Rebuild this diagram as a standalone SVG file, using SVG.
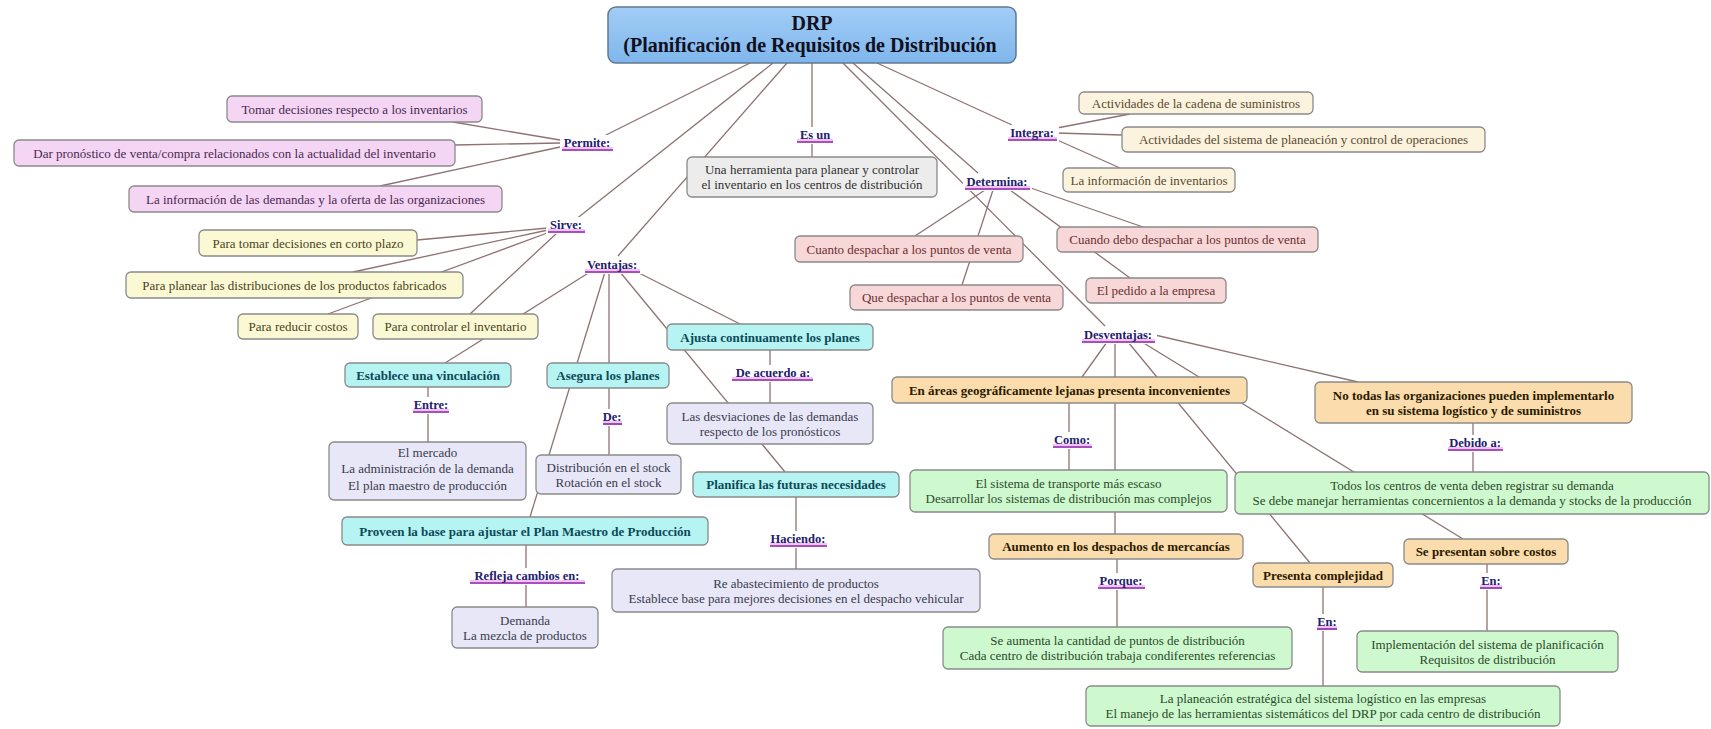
<svg xmlns="http://www.w3.org/2000/svg" width="1711" height="729" viewBox="0 0 1711 729">
<defs>
<linearGradient id="gMain" x1="0" y1="0" x2="0" y2="1"><stop offset="0" stop-color="#a2cdf6"/><stop offset="1" stop-color="#7fb6ec"/></linearGradient>
</defs>
<style>
text{font-family:"Liberation Serif","Times New Roman",serif;font-size:13px;text-anchor:middle}
.box{stroke:#8a8a8a;stroke-width:1.3}
.pk{fill:#f4d6f4}.pkt{fill:#4a2850}
.yl{fill:#fbf9d4}.ylt{fill:#4a4220}
.bg{fill:#fbf3de}.bgt{fill:#5a4a30}
.rs{fill:#f7d7d7}.rst{fill:#6a3030}
.gy{fill:#ececec}.gyt{fill:#303030}
.cy{fill:#b6f3f3}.cyt{fill:#0c4a58;font-weight:bold}
.lv{fill:#e7e7f8}.lvt{fill:#3a3a4c}
.or{fill:#fbdcad}.ort{fill:#2a1a00;font-weight:bold}
.gr{fill:#cef9ce}.grt{fill:#2a4a2a}
.conn line{stroke:#8f7272;stroke-width:1.3}
.lt{font-weight:bold;fill:#22206c;font-size:12.5px}
.lbg{fill:#ffffff}
.glow{fill:#f2a8f2;opacity:0.7}
.ul{stroke:#8a2aa8;stroke-width:1.6}
</style>
<rect width="1711" height="729" fill="#ffffff"/>

<g id="connectors" class="conn">
<line x1="750" y1="63" x2="600" y2="138"/>
<line x1="560" y1="140" x2="453" y2="122"/>
<line x1="560" y1="143" x2="455" y2="145"/>
<line x1="560" y1="147" x2="380" y2="186"/>
<line x1="773" y1="63" x2="575" y2="220"/>
<line x1="548" y1="228" x2="417" y2="240"/>
<line x1="548" y1="230" x2="353" y2="272"/>
<line x1="550" y1="232" x2="328" y2="314"/>
<line x1="558" y1="232" x2="470" y2="314"/>
<line x1="787" y1="63" x2="618" y2="256"/>
<line x1="812" y1="63" x2="812" y2="157"/>
<line x1="877" y1="63" x2="1012" y2="125"/>
<line x1="1057" y1="128" x2="1130" y2="114"/>
<line x1="1057" y1="133" x2="1122" y2="135"/>
<line x1="1055" y1="139" x2="1120" y2="168"/>
<line x1="853" y1="63" x2="978" y2="173"/>
<line x1="1025" y1="186" x2="1143" y2="227"/>
<line x1="985" y1="190" x2="915" y2="236"/>
<line x1="993" y1="190" x2="962" y2="285"/>
<line x1="1010" y1="190" x2="1130" y2="278"/>
<line x1="843" y1="63" x2="1105" y2="326"/>
<line x1="590" y1="272" x2="445" y2="363"/>
<line x1="609" y1="272" x2="609" y2="363"/>
<line x1="637" y1="272" x2="740" y2="324"/>
<line x1="620" y1="272" x2="785" y2="472"/>
<line x1="605" y1="272" x2="530" y2="517"/>
<line x1="428" y1="387" x2="428" y2="442"/>
<line x1="609" y1="388" x2="609" y2="455"/>
<line x1="770" y1="350" x2="770" y2="403"/>
<line x1="796" y1="497" x2="796" y2="569"/>
<line x1="526" y1="545" x2="526" y2="607"/>
<line x1="1107" y1="342" x2="1082" y2="377"/>
<line x1="1115" y1="342" x2="1115" y2="534"/>
<line x1="1155" y1="335" x2="1358" y2="382"/>
<line x1="1128" y1="342" x2="1310" y2="563"/>
<line x1="1142" y1="342" x2="1463" y2="539"/>
<line x1="1069" y1="403" x2="1069" y2="470"/>
<line x1="1117" y1="559" x2="1117" y2="627"/>
<line x1="1473" y1="423" x2="1473" y2="472"/>
<line x1="1323" y1="587" x2="1323" y2="686"/>
<line x1="1487" y1="564" x2="1487" y2="631"/>
</g>

<g id="link-labels">
<g id="l-permite"><rect class="lbg" x="560" y="135" width="55" height="17"/><rect class="glow" x="562" y="147" width="51" height="4"/><line class="ul" x1="562" y1="150" x2="613" y2="150"/><text class="lt" x="587" y="147">Permite:</text></g>
<g id="l-sirve"><rect class="lbg" x="546" y="217" width="41" height="17"/><rect class="glow" x="548" y="229" width="37" height="4"/><line class="ul" x1="548" y1="232" x2="585" y2="232"/><text class="lt" x="566" y="229">Sirve:</text></g>
<g id="l-esun"><rect class="lbg" x="795" y="127" width="40" height="17"/><rect class="glow" x="797" y="139" width="36" height="4"/><line class="ul" x1="797" y1="142" x2="833" y2="142"/><text class="lt" x="815" y="139">Es un</text></g>
<g id="l-integra"><rect class="lbg" x="1006" y="125" width="53" height="17"/><rect class="glow" x="1008" y="137" width="49" height="4"/><line class="ul" x1="1008" y1="140" x2="1057" y2="140"/><text class="lt" x="1032" y="137">Integra:</text></g>
<g id="l-determina"><rect class="lbg" x="963" y="174" width="69" height="17"/><rect class="glow" x="965" y="186" width="65" height="4"/><line class="ul" x1="965" y1="189" x2="1030" y2="189"/><text class="lt" x="997" y="186">Determina:</text></g>
<g id="l-ventajas"><rect class="lbg" x="583" y="257" width="59" height="17"/><rect class="glow" x="585" y="269" width="55" height="4"/><line class="ul" x1="585" y1="272" x2="640" y2="272"/><text class="lt" x="612" y="269">Ventajas:</text></g>
<g id="l-entre"><rect class="lbg" x="411" y="397" width="40" height="17"/><rect class="glow" x="413" y="409" width="36" height="4"/><line class="ul" x1="413" y1="412" x2="449" y2="412"/><text class="lt" x="431" y="409">Entre:</text></g>
<g id="l-de"><rect class="lbg" x="601" y="409" width="23" height="17"/><rect class="glow" x="603" y="421" width="19" height="4"/><line class="ul" x1="603" y1="424" x2="622" y2="424"/><text class="lt" x="612" y="421">De:</text></g>
<g id="l-deacuerdo"><rect class="lbg" x="730" y="365" width="85" height="17"/><rect class="glow" x="732" y="377" width="81" height="4"/><line class="ul" x1="732" y1="380" x2="813" y2="380"/><text class="lt" x="773" y="377">De acuerdo a:</text></g>
<g id="l-haciendo"><rect class="lbg" x="768" y="531" width="61" height="17"/><rect class="glow" x="770" y="543" width="57" height="4"/><line class="ul" x1="770" y1="546" x2="827" y2="546"/><text class="lt" x="798" y="543">Haciendo:</text></g>
<g id="l-refleja"><rect class="lbg" x="468" y="568" width="119" height="17"/><rect class="glow" x="470" y="580" width="115" height="4"/><line class="ul" x1="470" y1="583" x2="585" y2="583"/><text class="lt" x="527" y="580">Refleja cambios en:</text></g>
<g id="l-desventajas"><rect class="lbg" x="1080" y="327" width="77" height="17"/><rect class="glow" x="1082" y="339" width="73" height="4"/><line class="ul" x1="1082" y1="342" x2="1155" y2="342"/><text class="lt" x="1118" y="339">Desventajas:</text></g>
<g id="l-como"><rect class="lbg" x="1051" y="432" width="43" height="17"/><rect class="glow" x="1053" y="444" width="39" height="4"/><line class="ul" x1="1053" y1="447" x2="1092" y2="447"/><text class="lt" x="1072" y="444">Como:</text></g>
<g id="l-debido"><rect class="lbg" x="1446" y="435" width="59" height="17"/><rect class="glow" x="1448" y="447" width="55" height="4"/><line class="ul" x1="1448" y1="450" x2="1503" y2="450"/><text class="lt" x="1475" y="447">Debido a:</text></g>
<g id="l-porque"><rect class="lbg" x="1096" y="573" width="51" height="17"/><rect class="glow" x="1098" y="585" width="47" height="4"/><line class="ul" x1="1098" y1="588" x2="1145" y2="588"/><text class="lt" x="1121" y="585">Porque:</text></g>
<g id="l-en1"><rect class="lbg" x="1315" y="614" width="24" height="17"/><rect class="glow" x="1317" y="626" width="20" height="4"/><line class="ul" x1="1317" y1="629" x2="1337" y2="629"/><text class="lt" x="1327" y="626">En:</text></g>
<g id="l-en2"><rect class="lbg" x="1478" y="573" width="26" height="17"/><rect class="glow" x="1480" y="585" width="22" height="4"/><line class="ul" x1="1480" y1="588" x2="1502" y2="588"/><text class="lt" x="1491" y="585">En:</text></g>
</g>

<g id="drp"><rect x="608" y="7" width="408" height="56" rx="8" fill="url(#gMain)" stroke="#62788f" stroke-width="1.5"/><text x="812" y="30" style="font-size:20px;font-weight:bold;fill:#101020">DRP</text><text x="810" y="52" style="font-size:20px;font-weight:bold;fill:#101020">(Planificación de Requisitos de Distribución</text></g>

<g id="perm1"><rect class="box pk" x="227" y="96" width="255" height="26" rx="5"/><text class="pkt" x="354.5" y="113.5">Tomar decisiones respecto a los inventarios</text></g>
<g id="perm2"><rect class="box pk" x="14" y="140" width="441" height="26" rx="5"/><text class="pkt" x="234.5" y="157.5">Dar pronóstico de venta/compra relacionados con la actualidad del inventario</text></g>
<g id="perm3"><rect class="box pk" x="129" y="186" width="373" height="26" rx="5"/><text class="pkt" x="315.5" y="203.5">La información de las demandas y la oferta de las organizaciones</text></g>

<g id="sirve1"><rect class="box yl" x="199" y="230" width="218" height="26" rx="5"/><text class="ylt" x="308" y="247.5">Para tomar decisiones en corto plazo</text></g>
<g id="sirve2"><rect class="box yl" x="126" y="272" width="337" height="26" rx="5"/><text class="ylt" x="294.5" y="289.5">Para planear las distribuciones de los productos fabricados</text></g>
<g id="sirve3"><rect class="box yl" x="238" y="314" width="120" height="25" rx="5"/><text class="ylt" x="298" y="331">Para reducir costos</text></g>
<g id="sirve4"><rect class="box yl" x="373" y="314" width="165" height="25" rx="5"/><text class="ylt" x="455.5" y="331">Para controlar el inventario</text></g>

<g id="esun"><rect class="box gy" x="687" y="157" width="250" height="40" rx="5"/><text class="gyt" x="812"><tspan x="812" y="174">Una herramienta para planear y controlar</tspan><tspan x="812" y="189">el inventario en los centros de distribución</tspan></text></g>

<g id="int1"><rect class="box bg" x="1079" y="92" width="234" height="22" rx="5"/><text class="bgt" x="1196" y="107.5">Actividades de la cadena de suministros</text></g>
<g id="int2"><rect class="box bg" x="1122" y="127" width="363" height="25" rx="5"/><text class="bgt" x="1303.5" y="144">Actividades del sistema de planeación y control de operaciones</text></g>
<g id="int3"><rect class="box bg" x="1063" y="168" width="172" height="24" rx="5"/><text class="bgt" x="1149" y="184.5">La información de inventarios</text></g>

<g id="det1"><rect class="box rs" x="1057" y="227" width="261" height="25" rx="5"/><text class="rst" x="1187.5" y="244">Cuando debo despachar a los puntos de venta</text></g>
<g id="det2"><rect class="box rs" x="795" y="236" width="228" height="26" rx="5"/><text class="rst" x="909" y="253.5">Cuanto despachar a los puntos de venta</text></g>
<g id="det3"><rect class="box rs" x="850" y="285" width="213" height="25" rx="5"/><text class="rst" x="956.5" y="302">Que despachar a los puntos de venta</text></g>
<g id="det4"><rect class="box rs" x="1086" y="278" width="140" height="25" rx="5"/><text class="rst" x="1156" y="295">El pedido a la empresa</text></g>

<g id="v1"><rect class="box cy" x="345" y="363" width="166" height="24" rx="5"/><text class="cyt" x="428" y="379.5">Establece una vinculación</text></g>
<g id="v1c"><rect class="box lv" x="329" y="442" width="197" height="58" rx="5"/><text class="lvt"><tspan x="427.5" y="456.5">El mercado</tspan><tspan x="427.5" y="473">La administración de la demanda</tspan><tspan x="427.5" y="489.5">El plan maestro de producción</tspan></text></g>
<g id="v2"><rect class="box cy" x="547" y="363" width="122" height="25" rx="5"/><text class="cyt" x="608" y="380">Asegura los planes</text></g>
<g id="v2c"><rect class="box lv" x="536" y="455" width="145" height="39" rx="5"/><text class="lvt"><tspan x="608.5" y="471.5">Distribución en el stock</tspan><tspan x="608.5" y="486.5">Rotación en el stock</tspan></text></g>
<g id="v3"><rect class="box cy" x="667" y="324" width="206" height="26" rx="5"/><text class="cyt" x="770" y="341.5">Ajusta continuamente los planes</text></g>
<g id="v3c"><rect class="box lv" x="667" y="403" width="206" height="41" rx="5"/><text class="lvt"><tspan x="770" y="420.5">Las desviaciones de las demandas</tspan><tspan x="770" y="435.5">respecto de los pronósticos</tspan></text></g>
<g id="v4"><rect class="box cy" x="693" y="472" width="206" height="25" rx="5"/><text class="cyt" x="796" y="489">Planifica las futuras necesidades</text></g>
<g id="v4c"><rect class="box lv" x="612" y="569" width="368" height="43" rx="5"/><text class="lvt"><tspan x="796" y="587.5">Re abastecimiento de productos</tspan><tspan x="796" y="602.5">Establece base para mejores decisiones en el despacho vehicular</tspan></text></g>
<g id="v5"><rect class="box cy" x="342" y="517" width="366" height="28" rx="5"/><text class="cyt" x="525" y="535.5">Proveen la base para ajustar el Plan Maestro de Producción</text></g>
<g id="v5c"><rect class="box lv" x="452" y="607" width="146" height="41" rx="5"/><text class="lvt"><tspan x="525" y="624.5">Demanda</tspan><tspan x="525" y="639.5">La mezcla de productos</tspan></text></g>

<g id="d1"><rect class="box or" x="892" y="377" width="355" height="26" rx="5"/><text class="ort" x="1069.5" y="394.5">En áreas geográficamente lejanas presenta inconvenientes</text></g>
<g id="d1c"><rect class="box gr" x="910" y="470" width="317" height="42" rx="5"/><text class="grt"><tspan x="1068.5" y="488">El sistema de transporte más escaso</tspan><tspan x="1068.5" y="503">Desarrollar los sistemas de distribución mas complejos</tspan></text></g>
<g id="d2"><rect class="box or" x="989" y="534" width="254" height="25" rx="5"/><text class="ort" x="1116" y="551">Aumento en los despachos de mercancías</text></g>
<g id="d2c"><rect class="box gr" x="943" y="627" width="349" height="42" rx="5"/><text class="grt"><tspan x="1117.5" y="645">Se aumenta la cantidad de puntos de distribución</tspan><tspan x="1117.5" y="660">Cada centro de distribución trabaja condiferentes referencias</tspan></text></g>
<g id="d3"><rect class="box or" x="1315" y="382" width="317" height="41" rx="5"/><text class="ort"><tspan x="1473.5" y="399.5">No todas las organizaciones pueden implementarlo</tspan><tspan x="1473.5" y="414.5">en su sistema logístico y de suministros</tspan></text></g>
<g id="d3c"><rect class="box gr" x="1235" y="472" width="474" height="42" rx="5"/><text class="grt"><tspan x="1472" y="490">Todos los centros de venta deben registrar su demanda</tspan><tspan x="1472" y="505">Se debe manejar herramientas concernientos a la demanda y stocks de la producción</tspan></text></g>
<g id="d4"><rect class="box or" x="1253" y="563" width="140" height="24" rx="5"/><text class="ort" x="1323" y="579.5">Presenta complejidad</text></g>
<g id="d4c"><rect class="box gr" x="1086" y="686" width="474" height="40" rx="5"/><text class="grt"><tspan x="1323" y="703">La planeación estratégica del sistema logístico en las empresas</tspan><tspan x="1323" y="718">El manejo de las herramientas sistemáticos del DRP por cada centro de distribución</tspan></text></g>
<g id="d5"><rect class="box or" x="1404" y="539" width="164" height="25" rx="5"/><text class="ort" x="1486" y="556">Se presentan sobre costos</text></g>
<g id="d5c"><rect class="box gr" x="1357" y="631" width="261" height="41" rx="5"/><text class="grt"><tspan x="1487.5" y="648.5">Implementación del sistema de planificación</tspan><tspan x="1487.5" y="663.5">Requisitos de distribución</tspan></text></g>
</svg>
